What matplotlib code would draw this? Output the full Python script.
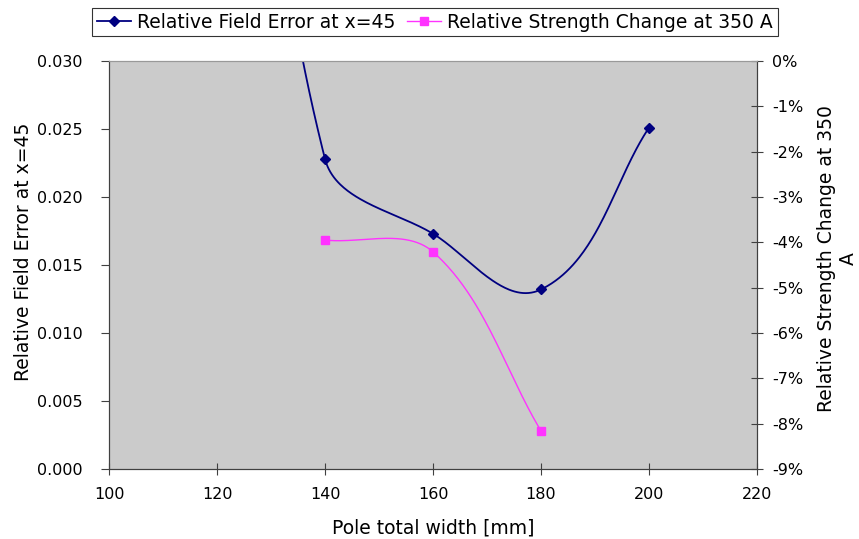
import numpy as np
import matplotlib.pyplot as plt
from matplotlib.ticker import FuncFormatter

plt.rcParams['font.family'] = 'DejaVu Sans'

width_mm = [120, 140, 160, 180, 200]
field_error = [0.080, 0.0228, 0.0173, 0.0132, 0.0251]

width_mm_strength = [140, 160, 180]
strength_change = [-0.0395, -0.0421, -0.0816]


def smooth(a, xs, ys, n=80, s=1/3):
	# Excel-like smoothed line, built in screen space:
	# bezier segments, tangent along neighbour chord, length scaled by segment length
	pts = a.transData.transform(np.column_stack([xs, ys]).astype(float))
	out = []
	for i in range(len(pts) - 1):
		p0 = pts[i - 1] if i > 0 else pts[i]
		p1 = pts[i]
		p2 = pts[i + 1]
		p3 = pts[i + 2] if i + 2 < len(pts) else pts[i + 1]
		seg_len = np.hypot(*(p2 - p1))
		d1 = p2 - p0
		d1 = d1 / np.hypot(*d1)
		d2 = p3 - p1
		d2 = d2 / np.hypot(*d2)
		c1 = p1 + d1 * seg_len * s
		c2 = p2 - d2 * seg_len * s
		t = np.linspace(0, 1, n)[:, None]
		seg = (1 - t)**3 * p1 + 3 * (1 - t)**2 * t * c1 + 3 * (1 - t) * t**2 * c2 + t**3 * p2
		out.append(seg)
	out = a.transData.inverted().transform(np.vstack(out))
	return out[:, 0], out[:, 1]


fig = plt.figure(figsize=(8.59, 5.39), dpi=100)
ax = fig.add_axes([109/859, 1 - 469/539, 648/859, 408/539])
ax.set_facecolor('#cbcbcb')
ax2 = ax.twinx()

blue = '#000080'
pink = '#ff33ff'

ax.set_xlim(100, 220)
ax.set_ylim(0, 0.030)
ax2.set_ylim(-0.09, 0)

sx, sy = smooth(ax, width_mm, field_error)
ax.plot(sx, sy, color=blue, lw=1.3)
ax.plot(width_mm, field_error, ls='none', marker='D', ms=5, color=blue)
h1, = ax.plot([], [], color=blue, lw=1.3, marker='D', ms=5)

px, py = smooth(ax2, width_mm_strength, strength_change)
ax2.plot(px, py, color=pink, lw=1.0)
ax2.plot(width_mm_strength, strength_change, ls='none', marker='s', ms=6, color=pink)
h2, = ax2.plot([], [], color=pink, lw=1.0, marker='s', ms=6)

ax.set_xticks(np.arange(100, 221, 20))
ax.set_yticks(np.arange(0, 0.0301, 0.005))
ax.yaxis.set_major_formatter(FuncFormatter(lambda v, p: '%.3f' % v))

ax2.set_yticks(np.arange(-0.09, 0.0001, 0.01))
ax2.yaxis.set_major_formatter(FuncFormatter(lambda v, p: '%d%%' % round(v * 100)))

for a in (ax, ax2):
	a.spines['left'].set_color('#404040')
	a.spines['bottom'].set_color('#404040')
	a.spines['right'].set_color('#404040')
	a.spines['top'].set_color('#999999')

ax.tick_params(axis='y', direction='out', length=6, color='#404040', labelsize=11.5, pad=13)
ax.tick_params(axis='x', direction='inout', length=8, color='#404040', labelsize=11.5, pad=9)
ax2.tick_params(axis='y', direction='inout', length=8, color='#404040', labelsize=11.5, pad=7)

ax.set_xlabel('Pole total width [mm]', fontsize=13.5, labelpad=12)
ax.set_ylabel('Relative Field Error at x=45', fontsize=13.5, labelpad=3)
ax2.set_ylabel('Relative Strength Change at 350\nA', fontsize=13.5, labelpad=10,
	linespacing=1.15)
ax.yaxis.label.set_y(0.532)
ax2.yaxis.label.set_y(0.517)

leg = fig.legend([h1, h2], ['Relative Field Error at x=45', 'Relative Strength Change at 350 A'],
	loc='center', bbox_to_anchor=(435/859, 1 - 22/539), ncol=2, fontsize=13.5,
	frameon=True, fancybox=False, edgecolor='black', handlelength=1.8,
	handletextpad=0.35, columnspacing=0.6, borderpad=0.25, borderaxespad=0)
leg.get_frame().set_linewidth(0.8)

fig.savefig('out.png', dpi=100)
